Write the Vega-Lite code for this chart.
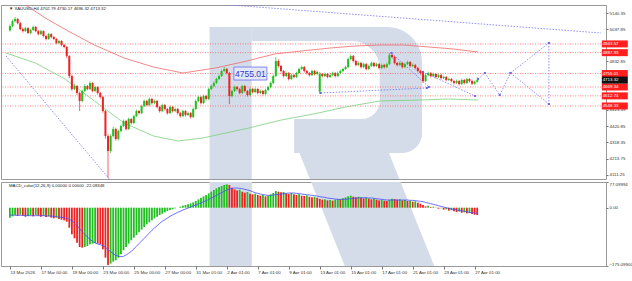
{
"$schema": "https://vega.github.io/schema/vega-lite/v6.json",
"padding": {"left": 0, "top": 4, "right": 0, "bottom": 0},
"background": "white",
"spacing": 3,
"bounds": "flush",
"config": {
  "view": {"stroke": "#9a9a9a", "strokeWidth": 1},
  "font": "Liberation Sans",
  "axis": {"labelFont": "Liberation Sans", "labelFontSize": 4.4, "labelColor": "#333333", "tickSize": 2, "tickColor": "#777777", "domain": false, "grid": false, "labelPadding": 1, "labelOverlap": false, "labelFlush": false},
  "axisX": {"labelAlign": "left", "tickSize": 3, "labelBound": false}
},
"datasets": {
  "candles": [
{"i":0,"o":5030,"h":5068,"l":5022,"c":5057},{"i":1,"o":5057,"h":5098,"l":5050,"c":5089},{"i":2,"o":5089,"h":5115,"l":5080,"c":5102},{"i":3,"o":5102,"h":5110,"l":5068,"c":5076},{"i":4,"o":5076,"h":5084,"l":5030,"c":5038},{"i":5,"o":5038,"h":5048,"l":5016,"c":5025},{"i":6,"o":5025,"h":5053,"l":5019,"c":5044},{"i":7,"o":5044,"h":5050,"l":5006,"c":5013},{"i":8,"o":5013,"h":5040,"l":5005,"c":5032},{"i":9,"o":5032,"h":5060,"l":5026,"c":5051},
{"i":10,"o":5051,"h":5058,"l":5018,"c":5025},{"i":11,"o":5025,"h":5033,"l":4998,"c":5006},{"i":12,"o":5006,"h":5034,"l":5000,"c":5025},{"i":13,"o":5025,"h":5030,"l":4986,"c":4994},{"i":14,"o":4994,"h":5001,"l":4966,"c":4975},{"i":15,"o":4975,"h":5014,"l":4970,"c":5006},{"i":16,"o":5006,"h":5012,"l":4980,"c":4987},{"i":17,"o":4987,"h":4994,"l":4967,"c":4975},{"i":18,"o":4975,"h":4981,"l":4940,"c":4949},{"i":19,"o":4949,"h":4970,"l":4943,"c":4962},
{"i":20,"o":4962,"h":4968,"l":4928,"c":4936},{"i":21,"o":4936,"h":4944,"l":4915,"c":4924},{"i":22,"o":4924,"h":4930,"l":4855,"c":4866},{"i":23,"o":4866,"h":4872,"l":4725,"c":4739},{"i":24,"o":4739,"h":4748,"l":4645,"c":4656},{"i":25,"o":4656,"h":4688,"l":4648,"c":4675},{"i":26,"o":4675,"h":4682,"l":4620,"c":4631},{"i":27,"o":4631,"h":4640,"l":4516,"c":4580},{"i":28,"o":4580,"h":4652,"l":4572,"c":4644},{"i":29,"o":4644,"h":4686,"l":4636,"c":4675},
{"i":30,"o":4675,"h":4682,"l":4648,"c":4656},{"i":31,"o":4656,"h":4705,"l":4650,"c":4695},{"i":32,"o":4695,"h":4700,"l":4636,"c":4644},{"i":33,"o":4644,"h":4678,"l":4638,"c":4669},{"i":34,"o":4669,"h":4675,"l":4622,"c":4631},{"i":35,"o":4631,"h":4638,"l":4596,"c":4605},{"i":36,"o":4605,"h":4612,"l":4505,"c":4516},{"i":37,"o":4516,"h":4524,"l":4340,"c":4357},{"i":38,"o":4357,"h":4370,"l":4090,"c":4262},{"i":39,"o":4262,"h":4368,"l":4250,"c":4357},
{"i":40,"o":4357,"h":4415,"l":4348,"c":4402},{"i":41,"o":4402,"h":4410,"l":4328,"c":4338},{"i":42,"o":4338,"h":4398,"l":4330,"c":4389},{"i":43,"o":4389,"h":4430,"l":4380,"c":4421},{"i":44,"o":4421,"h":4462,"l":4414,"c":4453},{"i":45,"o":4453,"h":4460,"l":4392,"c":4402},{"i":46,"o":4402,"h":4475,"l":4395,"c":4465},{"i":47,"o":4465,"h":4472,"l":4430,"c":4440},{"i":48,"o":4440,"h":4493,"l":4433,"c":4484},{"i":49,"o":4484,"h":4525,"l":4477,"c":4516},
{"i":50,"o":4516,"h":4523,"l":4494,"c":4503},{"i":51,"o":4503,"h":4557,"l":4496,"c":4548},{"i":52,"o":4548,"h":4590,"l":4541,"c":4580},{"i":53,"o":4580,"h":4587,"l":4546,"c":4554},{"i":54,"o":4554,"h":4602,"l":4547,"c":4593},{"i":55,"o":4593,"h":4600,"l":4558,"c":4567},{"i":56,"o":4567,"h":4589,"l":4560,"c":4580},{"i":57,"o":4580,"h":4586,"l":4533,"c":4542},{"i":58,"o":4542,"h":4549,"l":4507,"c":4516},{"i":59,"o":4516,"h":4563,"l":4509,"c":4554},
{"i":60,"o":4554,"h":4561,"l":4520,"c":4529},{"i":61,"o":4529,"h":4536,"l":4494,"c":4503},{"i":62,"o":4503,"h":4551,"l":4496,"c":4542},{"i":63,"o":4542,"h":4549,"l":4507,"c":4516},{"i":64,"o":4516,"h":4538,"l":4509,"c":4529},{"i":65,"o":4529,"h":4536,"l":4494,"c":4503},{"i":66,"o":4503,"h":4510,"l":4475,"c":4484},{"i":67,"o":4484,"h":4525,"l":4477,"c":4516},{"i":68,"o":4516,"h":4523,"l":4482,"c":4491},{"i":69,"o":4491,"h":4512,"l":4484,"c":4503},
{"i":70,"o":4503,"h":4510,"l":4469,"c":4478},{"i":71,"o":4478,"h":4538,"l":4471,"c":4529},{"i":72,"o":4529,"h":4590,"l":4522,"c":4580},{"i":73,"o":4580,"h":4614,"l":4573,"c":4605},{"i":74,"o":4605,"h":4612,"l":4558,"c":4567},{"i":75,"o":4567,"h":4621,"l":4560,"c":4612},{"i":76,"o":4612,"h":4619,"l":4584,"c":4593},{"i":77,"o":4593,"h":4665,"l":4586,"c":4656},{"i":78,"o":4656,"h":4684,"l":4649,"c":4675},{"i":79,"o":4675,"h":4704,"l":4668,"c":4695},
{"i":80,"o":4695,"h":4729,"l":4688,"c":4720},{"i":81,"o":4720,"h":4748,"l":4713,"c":4739},{"i":82,"o":4739,"h":4780,"l":4732,"c":4771},{"i":83,"o":4771,"h":4796,"l":4764,"c":4784},{"i":84,"o":4784,"h":4791,"l":4749,"c":4758},{"i":85,"o":4758,"h":4765,"l":4560,"c":4612},{"i":86,"o":4612,"h":4653,"l":4603,"c":4644},{"i":87,"o":4644,"h":4678,"l":4637,"c":4669},{"i":88,"o":4669,"h":4676,"l":4647,"c":4656},{"i":89,"o":4656,"h":4663,"l":4622,"c":4631},
{"i":90,"o":4631,"h":4684,"l":4624,"c":4675},{"i":91,"o":4675,"h":4682,"l":4635,"c":4644},{"i":92,"o":4644,"h":4651,"l":4609,"c":4618},{"i":93,"o":4618,"h":4665,"l":4611,"c":4656},{"i":94,"o":4656,"h":4663,"l":4628,"c":4637},{"i":95,"o":4637,"h":4665,"l":4630,"c":4656},{"i":96,"o":4656,"h":4663,"l":4622,"c":4631},{"i":97,"o":4631,"h":4653,"l":4624,"c":4644},{"i":98,"o":4644,"h":4651,"l":4616,"c":4625},{"i":99,"o":4625,"h":4659,"l":4618,"c":4650},
{"i":100,"o":4650,"h":4678,"l":4643,"c":4669},{"i":101,"o":4669,"h":4704,"l":4662,"c":4695},{"i":102,"o":4695,"h":4748,"l":4688,"c":4739},{"i":103,"o":4739,"h":4860,"l":4732,"c":4835},{"i":104,"o":4835,"h":4845,"l":4794,"c":4803},{"i":105,"o":4803,"h":4810,"l":4762,"c":4771},{"i":106,"o":4771,"h":4778,"l":4730,"c":4739},{"i":107,"o":4739,"h":4767,"l":4732,"c":4758},{"i":108,"o":4758,"h":4765,"l":4711,"c":4720},{"i":109,"o":4720,"h":4754,"l":4713,"c":4745},
{"i":110,"o":4745,"h":4752,"l":4724,"c":4733},{"i":111,"o":4733,"h":4767,"l":4726,"c":4758},{"i":112,"o":4758,"h":4793,"l":4751,"c":4784},{"i":113,"o":4784,"h":4805,"l":4777,"c":4796},{"i":114,"o":4796,"h":4803,"l":4762,"c":4771},{"i":115,"o":4771,"h":4778,"l":4749,"c":4758},{"i":116,"o":4758,"h":4765,"l":4736,"c":4745},{"i":117,"o":4745,"h":4780,"l":4738,"c":4771},{"i":118,"o":4771,"h":4778,"l":4743,"c":4752},{"i":119,"o":4752,"h":4774,"l":4745,"c":4765},
{"i":120,"o":4640,"h":4765,"l":4625,"c":4752},{"i":121,"o":4752,"h":4759,"l":4730,"c":4739},{"i":122,"o":4739,"h":4761,"l":4732,"c":4752},{"i":123,"o":4752,"h":4759,"l":4724,"c":4733},{"i":124,"o":4733,"h":4754,"l":4726,"c":4745},{"i":125,"o":4745,"h":4767,"l":4738,"c":4758},{"i":126,"o":4758,"h":4765,"l":4730,"c":4739},{"i":127,"o":4739,"h":4767,"l":4732,"c":4758},{"i":128,"o":4758,"h":4780,"l":4751,"c":4771},{"i":129,"o":4771,"h":4793,"l":4764,"c":4784},
{"i":130,"o":4784,"h":4805,"l":4777,"c":4796},{"i":131,"o":4796,"h":4856,"l":4789,"c":4847},{"i":132,"o":4847,"h":4875,"l":4840,"c":4866},{"i":133,"o":4866,"h":4873,"l":4826,"c":4835},{"i":134,"o":4835,"h":4842,"l":4800,"c":4809},{"i":135,"o":4809,"h":4831,"l":4802,"c":4822},{"i":136,"o":4822,"h":4829,"l":4787,"c":4796},{"i":137,"o":4796,"h":4824,"l":4789,"c":4815},{"i":138,"o":4815,"h":4822,"l":4775,"c":4784},{"i":139,"o":4784,"h":4812,"l":4777,"c":4803},
{"i":140,"o":4803,"h":4831,"l":4796,"c":4822},{"i":141,"o":4822,"h":4829,"l":4794,"c":4803},{"i":142,"o":4803,"h":4824,"l":4796,"c":4815},{"i":143,"o":4815,"h":4822,"l":4781,"c":4790},{"i":144,"o":4790,"h":4818,"l":4783,"c":4809},{"i":145,"o":4809,"h":4816,"l":4787,"c":4796},{"i":146,"o":4796,"h":4824,"l":4789,"c":4815},{"i":147,"o":4815,"h":4886,"l":4808,"c":4873},{"i":148,"o":4873,"h":4880,"l":4851,"c":4860},{"i":149,"o":4860,"h":4867,"l":4813,"c":4822},
{"i":150,"o":4822,"h":4829,"l":4800,"c":4809},{"i":151,"o":4809,"h":4831,"l":4802,"c":4822},{"i":152,"o":4822,"h":4829,"l":4787,"c":4796},{"i":153,"o":4796,"h":4824,"l":4789,"c":4815},{"i":154,"o":4815,"h":4837,"l":4808,"c":4828},{"i":155,"o":4828,"h":4835,"l":4794,"c":4803},{"i":156,"o":4803,"h":4818,"l":4796,"c":4809},{"i":157,"o":4809,"h":4816,"l":4781,"c":4790},{"i":158,"o":4790,"h":4797,"l":4762,"c":4771},{"i":159,"o":4771,"h":4778,"l":4749,"c":4758},
{"i":160,"o":4758,"h":4765,"l":4695,"c":4707},{"i":161,"o":4707,"h":4754,"l":4700,"c":4745},{"i":162,"o":4745,"h":4767,"l":4738,"c":4758},{"i":163,"o":4758,"h":4765,"l":4730,"c":4739},{"i":164,"o":4739,"h":4761,"l":4732,"c":4752},{"i":165,"o":4752,"h":4759,"l":4724,"c":4733},{"i":166,"o":4733,"h":4754,"l":4726,"c":4745},{"i":167,"o":4745,"h":4752,"l":4717,"c":4726},{"i":168,"o":4726,"h":4742,"l":4719,"c":4733},{"i":169,"o":4733,"h":4740,"l":4705,"c":4714},
{"i":170,"o":4714,"h":4729,"l":4707,"c":4720},{"i":171,"o":4720,"h":4727,"l":4698,"c":4707},{"i":172,"o":4707,"h":4714,"l":4686,"c":4695},{"i":173,"o":4695,"h":4716,"l":4688,"c":4707},{"i":174,"o":4707,"h":4714,"l":4679,"c":4688},{"i":175,"o":4688,"h":4723,"l":4681,"c":4714},{"i":176,"o":4714,"h":4721,"l":4686,"c":4695},{"i":177,"o":4695,"h":4729,"l":4688,"c":4720},{"i":178,"o":4720,"h":4727,"l":4698,"c":4707},{"i":179,"o":4707,"h":4714,"l":4682,"c":4690},
{"i":180,"o":4690,"h":4710,"l":4684,"c":4702.79},{"i":181,"o":4702.79,"h":4730.17,"l":4696.32,"c":4713.32}
  ],
  "macd": [
{"i":0,"m":-30,"s":-22},{"i":1,"m":-26,"s":-22},{"i":2,"m":-22,"s":-23},{"i":3,"m":-24,"s":-23},{"i":4,"m":-21,"s":-23},{"i":5,"m":-24,"s":-23},{"i":6,"m":-27,"s":-24},{"i":7,"m":-25,"s":-24},{"i":8,"m":-23,"s":-24},{"i":9,"m":-26,"s":-24},
{"i":10,"m":-22,"s":-24},{"i":11,"m":-24,"s":-24},{"i":12,"m":-27,"s":-24},{"i":13,"m":-25,"s":-24},{"i":14,"m":-28,"s":-25},{"i":15,"m":-26,"s":-25},{"i":16,"m":-30,"s":-25},{"i":17,"m":-32,"s":-26},{"i":18,"m":-30,"s":-27},{"i":19,"m":-34,"s":-28},
{"i":20,"m":-36,"s":-29},{"i":21,"m":-38,"s":-30},{"i":22,"m":-42,"s":-32},{"i":23,"m":-60,"s":-35},{"i":24,"m":-80,"s":-40},{"i":25,"m":-92,"s":-46},{"i":26,"m":-105,"s":-54},{"i":27,"m":-118,"s":-63},{"i":28,"m":-120,"s":-72},{"i":29,"m":-118,"s":-80},
{"i":30,"m":-115,"s":-88},{"i":31,"m":-110,"s":-95},{"i":32,"m":-108,"s":-101},{"i":33,"m":-106,"s":-106},{"i":34,"m":-108,"s":-109},{"i":35,"m":-110,"s":-111},{"i":36,"m":-125,"s":-114},{"i":37,"m":-150,"s":-119},{"i":38,"m":-172,"s":-126},{"i":39,"m":-168,"s":-132},
{"i":40,"m":-162,"s":-138},{"i":41,"m":-158,"s":-143},{"i":42,"m":-150,"s":-146},{"i":43,"m":-140,"s":-147},{"i":44,"m":-128,"s":-146},{"i":45,"m":-118,"s":-142},{"i":46,"m":-108,"s":-137},{"i":47,"m":-98,"s":-131},{"i":48,"m":-90,"s":-124},{"i":49,"m":-82,"s":-116},
{"i":50,"m":-74,"s":-108},{"i":51,"m":-66,"s":-100},{"i":52,"m":-58,"s":-92},{"i":53,"m":-50,"s":-84},{"i":54,"m":-44,"s":-76},{"i":55,"m":-38,"s":-68},{"i":56,"m":-32,"s":-61},{"i":57,"m":-27,"s":-54},{"i":58,"m":-22,"s":-47},{"i":59,"m":-18,"s":-41},
{"i":60,"m":-14,"s":-36},{"i":61,"m":-10,"s":-31},{"i":62,"m":-7,"s":-26},{"i":63,"m":-5,"s":-22},{"i":64,"m":-2,"s":-18},{"i":65,"m":0,"s":-14},{"i":66,"m":3,"s":-11},{"i":67,"m":6,"s":-7},{"i":68,"m":8,"s":-4},{"i":69,"m":10,"s":-1},
{"i":70,"m":13,"s":2},{"i":71,"m":16,"s":5},{"i":72,"m":20,"s":8},{"i":73,"m":25,"s":11},{"i":74,"m":30,"s":14},{"i":75,"m":34,"s":18},{"i":76,"m":38,"s":21},{"i":77,"m":43,"s":25},{"i":78,"m":48,"s":29},{"i":79,"m":53,"s":33},
{"i":80,"m":58,"s":37},{"i":81,"m":62,"s":41},{"i":82,"m":65,"s":45},{"i":83,"m":68,"s":49},{"i":84,"m":70,"s":53},{"i":85,"m":68,"s":56},{"i":86,"m":60,"s":58},{"i":87,"m":55,"s":59},{"i":88,"m":52,"s":59},{"i":89,"m":54,"s":58},
{"i":90,"m":48,"s":57},{"i":91,"m":45,"s":55},{"i":92,"m":47,"s":53},{"i":93,"m":42,"s":51},{"i":94,"m":40,"s":48},{"i":95,"m":42,"s":45},{"i":96,"m":38,"s":43},{"i":97,"m":36,"s":41},{"i":98,"m":38,"s":39},{"i":99,"m":34,"s":38},
{"i":100,"m":36,"s":37},{"i":101,"m":40,"s":37},{"i":102,"m":44,"s":38},{"i":103,"m":50,"s":39},{"i":104,"m":48,"s":40},{"i":105,"m":46,"s":41},{"i":106,"m":47,"s":42},{"i":107,"m":43,"s":43},{"i":108,"m":41,"s":44},{"i":109,"m":44,"s":44},
{"i":110,"m":40,"s":44},{"i":111,"m":38,"s":43},{"i":112,"m":40,"s":42},{"i":113,"m":36,"s":41},{"i":114,"m":35,"s":40},{"i":115,"m":37,"s":39},{"i":116,"m":33,"s":38},{"i":117,"m":31,"s":37},{"i":118,"m":33,"s":36},{"i":119,"m":30,"s":35},
{"i":120,"m":26,"s":33},{"i":121,"m":24,"s":32},{"i":122,"m":25,"s":31},{"i":123,"m":22,"s":29},{"i":124,"m":23,"s":28},{"i":125,"m":21,"s":27},{"i":126,"m":24,"s":26},{"i":127,"m":26,"s":25},{"i":128,"m":25,"s":25},{"i":129,"m":28,"s":25},
{"i":130,"m":31,"s":25},{"i":131,"m":34,"s":26},{"i":132,"m":36,"s":27},{"i":133,"m":33,"s":28},{"i":134,"m":31,"s":29},{"i":135,"m":33,"s":29},{"i":136,"m":30,"s":30},{"i":137,"m":28,"s":30},{"i":138,"m":30,"s":30},{"i":139,"m":27,"s":29},
{"i":140,"m":25,"s":29},{"i":141,"m":27,"s":28},{"i":142,"m":24,"s":27},{"i":143,"m":22,"s":26},{"i":144,"m":24,"s":25},{"i":145,"m":21,"s":24},{"i":146,"m":20,"s":23},{"i":147,"m":24,"s":23},{"i":148,"m":27,"s":23},{"i":149,"m":26,"s":23},
{"i":150,"m":24,"s":23},{"i":151,"m":25,"s":23},{"i":152,"m":22,"s":23},{"i":153,"m":23,"s":23},{"i":154,"m":20,"s":23},{"i":155,"m":21,"s":22},{"i":156,"m":18,"s":22},{"i":157,"m":19,"s":21},{"i":158,"m":15,"s":20},{"i":159,"m":12,"s":19},
{"i":160,"m":8,"s":18},{"i":161,"m":4,"s":16},{"i":162,"m":6,"s":14},{"i":163,"m":2,"s":12},{"i":164,"m":3,"s":10},{"i":165,"m":-1,"s":8},{"i":166,"m":-3,"s":6},{"i":167,"m":-2,"s":4},{"i":168,"m":-6,"s":2},{"i":169,"m":-5,"s":0},
{"i":170,"m":-9,"s":-2},{"i":171,"m":-8,"s":-4},{"i":172,"m":-11,"s":-5},{"i":173,"m":-13,"s":-7},{"i":174,"m":-12,"s":-8},{"i":175,"m":-15,"s":-10},{"i":176,"m":-14,"s":-11},{"i":177,"m":-17,"s":-12},{"i":178,"m":-16,"s":-14},{"i":179,"m":-19,"s":-15},
{"i":180,"m":-21,"s":-16},{"i":181,"m":-22.08,"s":-17}
  ],
  "redma": [
{"i":3.81,"p":5216.7},{"i":13.71,"p":5108.5},{"i":22.48,"p":5025.8},{"i":32.76,"p":4936.6},{"i":44.19,"p":4853.9},{"i":55.62,"p":4796.6},{"i":67.05,"p":4758.4},{"i":79.62,"p":4790.2},{"i":91.81,"p":4834.8},{"i":102.48,"p":4879.3},{"i":112.76,"p":4898.4},{"i":124.19,"p":4917.5},{"i":133.71,"p":4930.3},{"i":143.24,"p":4936.6},{"i":152.76,"p":4936.6},{"i":162.29,"p":4923.9},{"i":171.81,"p":4911.2},{"i":181.33,"p":4892.1}
  ],
  "greenma": [
{"i":-1.52,"p":4885.7},{"i":9.9,"p":4822.0},{"i":21.33,"p":4720.2},{"i":32.76,"p":4580.1},{"i":44.19,"p":4440.1},{"i":55.62,"p":4357.3},{"i":65.14,"p":4325.5},{"i":74.67,"p":4344.6},{"i":92.57,"p":4408.3},{"i":105.14,"p":4459.2},{"i":117.71,"p":4497.4},{"i":129.9,"p":4541.9},{"i":143.24,"p":4580.1},{"i":158.48,"p":4586.5},{"i":169.9,"p":4592.8},{"i":181.33,"p":4586.5}
  ],
  "trend": [
{"g":"t1","k":0,"i":80.38,"p":5197.6},{"g":"t1","k":1,"i":228.95,"p":5013.0},
{"g":"t2","k":0,"i":-1.52,"p":4866.6},{"g":"t2","k":1,"i":38.48,"p":4083.6},
{"g":"t3","k":0,"i":120.38,"p":4631.1},{"g":"t3","k":1,"i":161.52,"p":4662.9},
{"g":"t4","k":0,"i":147.81,"p":4885.7},{"g":"t4","k":1,"i":162.29,"p":4669.3},
{"g":"t5","k":0,"i":160.0,"p":4764.8},{"g":"t5","k":1,"i":180.19,"p":4612.0},
{"g":"f1","k":0,"i":181.33,"p":4720.2},{"g":"f1","k":1,"i":184.0,"p":4758.4},{"g":"f1","k":2,"i":189.71,"p":4618.3},{"g":"f1","k":3,"i":193.9,"p":4758.4},{"g":"f1","k":4,"i":208.76,"p":4949.4},
{"g":"f2","k":0,"i":193.9,"p":4758.4},{"g":"f2","k":1,"i":208.76,"p":4561.0},
{"g":"f3","k":0,"i":208.76,"p":4949.4},{"g":"f3","k":1,"i":208.76,"p":4561.0}
  ],
  "levels": [{"p":4943.57},{"p":4887.93},{"p":4755.01},{"p":4669.34},{"p":4612.74},{"p":4548.33}],
  "current": [{"p":4713.32}],
  "note": [{"p":4755.01}],
  "head1": [{"t":"▼ XAUUSD,H4  4702.79 4730.17 4696.32 4713.32"}],
  "head2": [{"t":"MACD_color(12,26,9) 0.00000 0.00000 -22.08348"}]
},
"vconcat": [
{
  "width": 605, "height": 174,
  "layer": [
    {"data": {"values": [{}]}, "mark": {"type": "rect", "color": "#d3dce8", "clip": true},
     "encoding": {"x": {"datum": 77.33, "type": "quantitative", "scale": {"domain": [-1.52, 228.95], "nice": false, "zero": false}, "axis": null}, "x2": {"datum": 93.71},
                  "y": {"datum": 5051.2, "type": "quantitative", "scale": {"domain": [4083.6, 5191.3], "nice": false, "zero": false}, "axis": {"orient": "right", "values": [5140.35, 5037.85, 4832.85, 4523.35, 4420.85, 4318.35, 4213.75, 4111.25], "format": ".2f", "title": null}}, "y2": {"datum": 4000}}},
    {"data": {"values": [{}]}, "mark": {"type": "rect", "color": "#d3dce8", "clip": true, "cornerRadiusTopRight": 35, "cornerRadiusBottomRight": 20},
     "encoding": {"x": {"datum": 93.71, "type": "quantitative", "scale": {"domain": [-1.52, 228.95], "nice": false, "zero": false}, "axis": null}, "x2": {"datum": 159.62},
                  "y": {"datum": 5051.2, "type": "quantitative", "scale": {"domain": [4083.6, 5191.3], "nice": false, "zero": false}, "axis": {"orient": "right", "values": [5140.35, 5037.85, 4832.85, 4523.35, 4420.85, 4318.35, 4213.75, 4111.25], "format": ".2f", "title": null}}, "y2": {"datum": 4249.1}}},
    {"data": {"values": [{}]}, "mark": {"type": "rule", "color": "#d3dce8", "strokeWidth": 83, "strokeCap": "butt", "clip": true},
     "encoding": {"x": {"datum": 124.19, "type": "quantitative", "scale": {"domain": [-1.52, 228.95], "nice": false, "zero": false}, "axis": null}, "x2": {"datum": 150.93},
                  "y": {"datum": 4465.6, "type": "quantitative", "scale": {"domain": [4083.6, 5191.3], "nice": false, "zero": false}, "axis": {"orient": "right", "values": [5140.35, 5037.85, 4832.85, 4523.35, 4420.85, 4318.35, 4213.75, 4111.25], "format": ".2f", "title": null}}, "y2": {"datum": 3370.6}}},
    {"data": {"values": [{}]}, "mark": {"type": "rect", "color": "white", "clip": true, "cornerRadiusTopRight": 28, "cornerRadiusBottomRight": 18},
     "encoding": {"x": {"datum": 93.71, "type": "quantitative", "scale": {"domain": [-1.52, 228.95], "nice": false, "zero": false}, "axis": null}, "x2": {"datum": 143.24},
                  "y": {"datum": 4962.1, "type": "quantitative", "scale": {"domain": [4083.6, 5191.3], "nice": false, "zero": false}, "axis": {"orient": "right", "values": [5140.35, 5037.85, 4832.85, 4523.35, 4420.85, 4318.35, 4213.75, 4111.25], "format": ".2f", "title": null}}, "y2": {"datum": 4465.6}}},
    {"data": {"values": [{}]}, "mark": {"type": "rect", "color": "white", "clip": true},
     "encoding": {"x": {"datum": 93.71, "type": "quantitative", "scale": {"domain": [-1.52, 228.95], "nice": false, "zero": false}, "axis": null}, "x2": {"datum": 110.1},
                  "y": {"datum": 4962.1, "type": "quantitative", "scale": {"domain": [4083.6, 5191.3], "nice": false, "zero": false}, "axis": {"orient": "right", "values": [5140.35, 5037.85, 4832.85, 4523.35, 4420.85, 4318.35, 4213.75, 4111.25], "format": ".2f", "title": null}}, "y2": {"datum": 4000}}},
    {"data": {"name": "levels"}, "mark": {"type": "rule", "color": "#ff4a4a", "strokeWidth": 0.8, "strokeDash": [1, 1.5], "opacity": 0.85},
     "encoding": {"y": {"field": "p", "type": "quantitative", "scale": {"domain": [4083.6, 5191.3], "nice": false, "zero": false}, "axis": {"orient": "right", "values": [5140.35, 5037.85, 4832.85, 4523.35, 4420.85, 4318.35, 4213.75, 4111.25], "format": ".2f", "title": null}}}},
    {"data": {"name": "redma"}, "mark": {"type": "line", "color": "#ee6a6a", "strokeWidth": 0.8, "clip": true},
     "encoding": {"x": {"field": "i", "type": "quantitative", "scale": {"domain": [-1.52, 228.95], "nice": false, "zero": false}, "axis": null},
                  "y": {"field": "p", "type": "quantitative", "scale": {"domain": [4083.6, 5191.3], "nice": false, "zero": false}, "axis": {"orient": "right", "values": [5140.35, 5037.85, 4832.85, 4523.35, 4420.85, 4318.35, 4213.75, 4111.25], "format": ".2f", "title": null}}}},
    {"data": {"name": "greenma"}, "mark": {"type": "line", "color": "#7ccf7c", "strokeWidth": 0.8, "clip": true},
     "encoding": {"x": {"field": "i", "type": "quantitative", "scale": {"domain": [-1.52, 228.95], "nice": false, "zero": false}, "axis": null},
                  "y": {"field": "p", "type": "quantitative", "scale": {"domain": [4083.6, 5191.3], "nice": false, "zero": false}, "axis": {"orient": "right", "values": [5140.35, 5037.85, 4832.85, 4523.35, 4420.85, 4318.35, 4213.75, 4111.25], "format": ".2f", "title": null}}}},
    {"data": {"name": "trend"}, "mark": {"type": "line", "color": "#7272f2", "strokeWidth": 0.8, "strokeDash": [1.5, 1.5], "clip": true},
     "encoding": {"x": {"field": "i", "type": "quantitative", "scale": {"domain": [-1.52, 228.95], "nice": false, "zero": false}, "axis": null},
                  "y": {"field": "p", "type": "quantitative", "scale": {"domain": [4083.6, 5191.3], "nice": false, "zero": false}, "axis": {"orient": "right", "values": [5140.35, 5037.85, 4832.85, 4523.35, 4420.85, 4318.35, 4213.75, 4111.25], "format": ".2f", "title": null}},
                  "detail": {"field": "g"}, "order": {"field": "k"}}},
    {"data": {"name": "trend"}, "transform": [{"filter": "datum.g != 't1' && datum.g != 't2'"}],
     "mark": {"type": "point", "shape": "square", "filled": true, "size": 4, "color": "#6a6aee", "opacity": 1, "clip": true},
     "encoding": {"x": {"field": "i", "type": "quantitative", "scale": {"domain": [-1.52, 228.95], "nice": false, "zero": false}, "axis": null},
                  "y": {"field": "p", "type": "quantitative", "scale": {"domain": [4083.6, 5191.3], "nice": false, "zero": false}, "axis": {"orient": "right", "values": [5140.35, 5037.85, 4832.85, 4523.35, 4420.85, 4318.35, 4213.75, 4111.25], "format": ".2f", "title": null}}}},
    {"data": {"name": "candles"}, "mark": {"type": "rule", "strokeWidth": 0.7, "clip": true},
     "encoding": {"x": {"field": "i", "type": "quantitative", "scale": {"domain": [-1.52, 228.95], "nice": false, "zero": false}, "axis": null},
                  "y": {"field": "l", "type": "quantitative", "scale": {"domain": [4083.6, 5191.3], "nice": false, "zero": false}, "axis": {"orient": "right", "values": [5140.35, 5037.85, 4832.85, 4523.35, 4420.85, 4318.35, 4213.75, 4111.25], "format": ".2f", "title": null}},
                  "y2": {"field": "h"},
                  "color": {"condition": {"test": "datum.c >= datum.o", "value": "#1fbf1f"}, "value": "#ee2222"}}},
    {"data": {"name": "candles"}, "mark": {"type": "bar", "size": 2, "clip": true},
     "encoding": {"x": {"field": "i", "type": "quantitative", "scale": {"domain": [-1.52, 228.95], "nice": false, "zero": false}, "axis": null},
                  "y": {"field": "o", "type": "quantitative", "scale": {"domain": [4083.6, 5191.3], "nice": false, "zero": false}, "axis": {"orient": "right", "values": [5140.35, 5037.85, 4832.85, 4523.35, 4420.85, 4318.35, 4213.75, 4111.25], "format": ".2f", "title": null}},
                  "y2": {"field": "c"},
                  "color": {"condition": {"test": "datum.c >= datum.o", "value": "#1fbf1f"}, "value": "#ee2222"}}},
    {"data": {"name": "note"}, "mark": {"type": "tick", "orient": "horizontal", "size": 33, "thickness": 13, "fill": "#e2e8f6", "stroke": "#6b6bef", "strokeWidth": 0.8, "opacity": 1, "filled": true},
     "encoding": {"x": {"datum": 93.14, "type": "quantitative", "scale": {"domain": [-1.52, 228.95], "nice": false, "zero": false}, "axis": null},
                  "y": {"field": "p", "type": "quantitative", "scale": {"domain": [4083.6, 5191.3], "nice": false, "zero": false}, "axis": {"orient": "right", "values": [5140.35, 5037.85, 4832.85, 4523.35, 4420.85, 4318.35, 4213.75, 4111.25], "format": ".2f", "title": null}}}},
    {"data": {"name": "note"}, "mark": {"type": "text", "font": "Liberation Sans", "fontSize": 8.5, "color": "#3535d6", "align": "center", "baseline": "middle"},
     "encoding": {"x": {"datum": 93.14, "type": "quantitative", "scale": {"domain": [-1.52, 228.95], "nice": false, "zero": false}, "axis": null},
                  "y": {"field": "p", "type": "quantitative", "scale": {"domain": [4083.6, 5191.3], "nice": false, "zero": false}, "axis": {"orient": "right", "values": [5140.35, 5037.85, 4832.85, 4523.35, 4420.85, 4318.35, 4213.75, 4111.25], "format": ".2f", "title": null}},
                  "text": {"field": "p", "type": "quantitative", "format": ".2f"}}},
    {"data": {"name": "levels"}, "mark": {"type": "tick", "orient": "horizontal", "size": 26, "thickness": 7, "color": "#ff1f1f", "opacity": 1},
     "encoding": {"x": {"datum": 234.3, "type": "quantitative", "scale": {"domain": [-1.52, 228.95], "nice": false, "zero": false}, "axis": null},
                  "y": {"field": "p", "type": "quantitative", "scale": {"domain": [4083.6, 5191.3], "nice": false, "zero": false}, "axis": {"orient": "right", "values": [5140.35, 5037.85, 4832.85, 4523.35, 4420.85, 4318.35, 4213.75, 4111.25], "format": ".2f", "title": null}}}},
    {"data": {"name": "current"}, "mark": {"type": "tick", "orient": "horizontal", "size": 26, "thickness": 7, "color": "#111111", "opacity": 1},
     "encoding": {"x": {"datum": 234.3, "type": "quantitative", "scale": {"domain": [-1.52, 228.95], "nice": false, "zero": false}, "axis": null},
                  "y": {"field": "p", "type": "quantitative", "scale": {"domain": [4083.6, 5191.3], "nice": false, "zero": false}, "axis": {"orient": "right", "values": [5140.35, 5037.85, 4832.85, 4523.35, 4420.85, 4318.35, 4213.75, 4111.25], "format": ".2f", "title": null}}}},
    {"data": {"name": "levels"}, "mark": {"type": "text", "font": "Liberation Sans", "fontSize": 4.4, "color": "white", "align": "left", "baseline": "middle"},
     "encoding": {"x": {"datum": 229.6, "type": "quantitative", "scale": {"domain": [-1.52, 228.95], "nice": false, "zero": false}, "axis": null},
                  "y": {"field": "p", "type": "quantitative", "scale": {"domain": [4083.6, 5191.3], "nice": false, "zero": false}, "axis": {"orient": "right", "values": [5140.35, 5037.85, 4832.85, 4523.35, 4420.85, 4318.35, 4213.75, 4111.25], "format": ".2f", "title": null}},
                  "text": {"field": "p", "type": "quantitative", "format": ".2f"}}},
    {"data": {"name": "current"}, "mark": {"type": "text", "font": "Liberation Sans", "fontSize": 4.4, "color": "white", "align": "left", "baseline": "middle"},
     "encoding": {"x": {"datum": 229.6, "type": "quantitative", "scale": {"domain": [-1.52, 228.95], "nice": false, "zero": false}, "axis": null},
                  "y": {"field": "p", "type": "quantitative", "scale": {"domain": [4083.6, 5191.3], "nice": false, "zero": false}, "axis": {"orient": "right", "values": [5140.35, 5037.85, 4832.85, 4523.35, 4420.85, 4318.35, 4213.75, 4111.25], "format": ".2f", "title": null}},
                  "text": {"field": "p", "type": "quantitative", "format": ".2f"}}},
    {"data": {"name": "head1"}, "mark": {"type": "text", "font": "Liberation Sans", "fontSize": 4.3, "color": "#222222", "align": "left", "baseline": "top"},
     "encoding": {"x": {"datum": -0.38, "type": "quantitative", "scale": {"domain": [-1.52, 228.95], "nice": false, "zero": false}, "axis": null},
                  "y": {"datum": 5178.6, "type": "quantitative", "scale": {"domain": [4083.6, 5191.3], "nice": false, "zero": false}, "axis": {"orient": "right", "values": [5140.35, 5037.85, 4832.85, 4523.35, 4420.85, 4318.35, 4213.75, 4111.25], "format": ".2f", "title": null}},
                  "text": {"field": "t"}}}
  ]
},
{
  "width": 605, "height": 84,
  "layer": [
    {"data": {"values": [{}]}, "mark": {"type": "rect", "color": "#d3dce8", "clip": true},
     "encoding": {"x": {"datum": 77.33, "type": "quantitative", "scale": {"domain": [-1.52, 228.95], "nice": false, "zero": false}, "axis": {"orient": "bottom", "values": [0, 12, 24, 36, 48, 60, 72, 84, 96, 108, 120, 132, 144, 156, 168, 180], "labelExpr": "['13 Mar 2026','17 Mar 00:00','19 Mar 00:00','23 Mar 00:00','25 Mar 00:00','27 Mar 00:00','31 Mar 01:00','2 Apr 01:00','7 Apr 01:00','9 Apr 01:00','13 Apr 01:00','15 Apr 01:00','17 Apr 01:00','21 Apr 01:00','23 Apr 01:00','27 Apr 01:00'][round(datum.value/12)]", "title": null}}, "x2": {"datum": 93.71},
                  "y": {"datum": 77.09994, "type": "quantitative", "scale": {"domain": [-175.099, 77.09994], "nice": false, "zero": false}, "axis": {"orient": "right", "values": [77.09994, 0, -175.099], "labelExpr": "datum.value == 0 ? '0.00' : format(datum.value, '.5f')", "labelFlush": true, "title": null}}, "y2": {"datum": -175.099}}},
    {"data": {"values": [{}]}, "mark": {"type": "rule", "color": "#d3dce8", "strokeWidth": 83, "strokeCap": "butt", "clip": true},
     "encoding": {"x": {"datum": 124.19, "type": "quantitative", "scale": {"domain": [-1.52, 228.95], "nice": false, "zero": false}, "axis": {"orient": "bottom", "values": [0, 12, 24, 36, 48, 60, 72, 84, 96, 108, 120, 132, 144, 156, 168, 180], "labelExpr": "['13 Mar 2026','17 Mar 00:00','19 Mar 00:00','23 Mar 00:00','25 Mar 00:00','27 Mar 00:00','31 Mar 01:00','2 Apr 01:00','7 Apr 01:00','9 Apr 01:00','13 Apr 01:00','15 Apr 01:00','17 Apr 01:00','21 Apr 01:00','23 Apr 01:00','27 Apr 01:00'][round(datum.value/12)]", "title": null}}, "x2": {"datum": 150.93},
                  "y": {"datum": 266.3, "type": "quantitative", "scale": {"domain": [-175.099, 77.09994], "nice": false, "zero": false}, "axis": {"orient": "right", "values": [77.09994, 0, -175.099], "labelExpr": "datum.value == 0 ? '0.00' : format(datum.value, '.5f')", "labelFlush": true, "title": null}}, "y2": {"datum": -250.2}}},
    {"data": {"name": "macd"},
     "transform": [{"window": [{"op": "lag", "field": "m", "as": "pm"}], "sort": [{"field": "i"}]}],
     "mark": {"type": "bar", "size": 1.8, "clip": true},
     "encoding": {"x": {"field": "i", "type": "quantitative", "scale": {"domain": [-1.52, 228.95], "nice": false, "zero": false}, "axis": {"orient": "bottom", "values": [0, 12, 24, 36, 48, 60, 72, 84, 96, 108, 120, 132, 144, 156, 168, 180], "labelExpr": "['13 Mar 2026','17 Mar 00:00','19 Mar 00:00','23 Mar 00:00','25 Mar 00:00','27 Mar 00:00','31 Mar 01:00','2 Apr 01:00','7 Apr 01:00','9 Apr 01:00','13 Apr 01:00','15 Apr 01:00','17 Apr 01:00','21 Apr 01:00','23 Apr 01:00','27 Apr 01:00'][round(datum.value/12)]", "title": null}},
                  "y": {"field": "m", "type": "quantitative", "scale": {"domain": [-175.099, 77.09994], "nice": false, "zero": false}, "axis": {"orient": "right", "values": [77.09994, 0, -175.099], "labelExpr": "datum.value == 0 ? '0.00' : format(datum.value, '.5f')", "labelFlush": true, "title": null}},
                  "y2": {"datum": 0},
                  "color": {"condition": {"test": "datum.pm == null || datum.m >= datum.pm", "value": "#1fbf1f"}, "value": "#ee2222"}}},
    {"data": {"name": "macd"}, "mark": {"type": "line", "color": "#4a4aff", "strokeWidth": 0.8, "clip": true},
     "encoding": {"x": {"field": "i", "type": "quantitative", "scale": {"domain": [-1.52, 228.95], "nice": false, "zero": false}, "axis": {"orient": "bottom", "values": [0, 12, 24, 36, 48, 60, 72, 84, 96, 108, 120, 132, 144, 156, 168, 180], "labelExpr": "['13 Mar 2026','17 Mar 00:00','19 Mar 00:00','23 Mar 00:00','25 Mar 00:00','27 Mar 00:00','31 Mar 01:00','2 Apr 01:00','7 Apr 01:00','9 Apr 01:00','13 Apr 01:00','15 Apr 01:00','17 Apr 01:00','21 Apr 01:00','23 Apr 01:00','27 Apr 01:00'][round(datum.value/12)]", "title": null}},
                  "y": {"field": "s", "type": "quantitative", "scale": {"domain": [-175.099, 77.09994], "nice": false, "zero": false}, "axis": {"orient": "right", "values": [77.09994, 0, -175.099], "labelExpr": "datum.value == 0 ? '0.00' : format(datum.value, '.5f')", "labelFlush": true, "title": null}}}},
    {"data": {"name": "head2"}, "mark": {"type": "text", "font": "Liberation Sans", "fontSize": 4.3, "color": "#222222", "align": "left", "baseline": "top"},
     "encoding": {"x": {"datum": -0.38, "type": "quantitative", "scale": {"domain": [-1.52, 228.95], "nice": false, "zero": false}, "axis": {"orient": "bottom", "values": [0, 12, 24, 36, 48, 60, 72, 84, 96, 108, 120, 132, 144, 156, 168, 180], "labelExpr": "['13 Mar 2026','17 Mar 00:00','19 Mar 00:00','23 Mar 00:00','25 Mar 00:00','27 Mar 00:00','31 Mar 01:00','2 Apr 01:00','7 Apr 01:00','9 Apr 01:00','13 Apr 01:00','15 Apr 01:00','17 Apr 01:00','21 Apr 01:00','23 Apr 01:00','27 Apr 01:00'][round(datum.value/12)]", "title": null}},
                  "y": {"datum": 71.1, "type": "quantitative", "scale": {"domain": [-175.099, 77.09994], "nice": false, "zero": false}, "axis": {"orient": "right", "values": [77.09994, 0, -175.099], "labelExpr": "datum.value == 0 ? '0.00' : format(datum.value, '.5f')", "labelFlush": true, "title": null}},
                  "text": {"field": "t"}}}
  ]
}
]
}
